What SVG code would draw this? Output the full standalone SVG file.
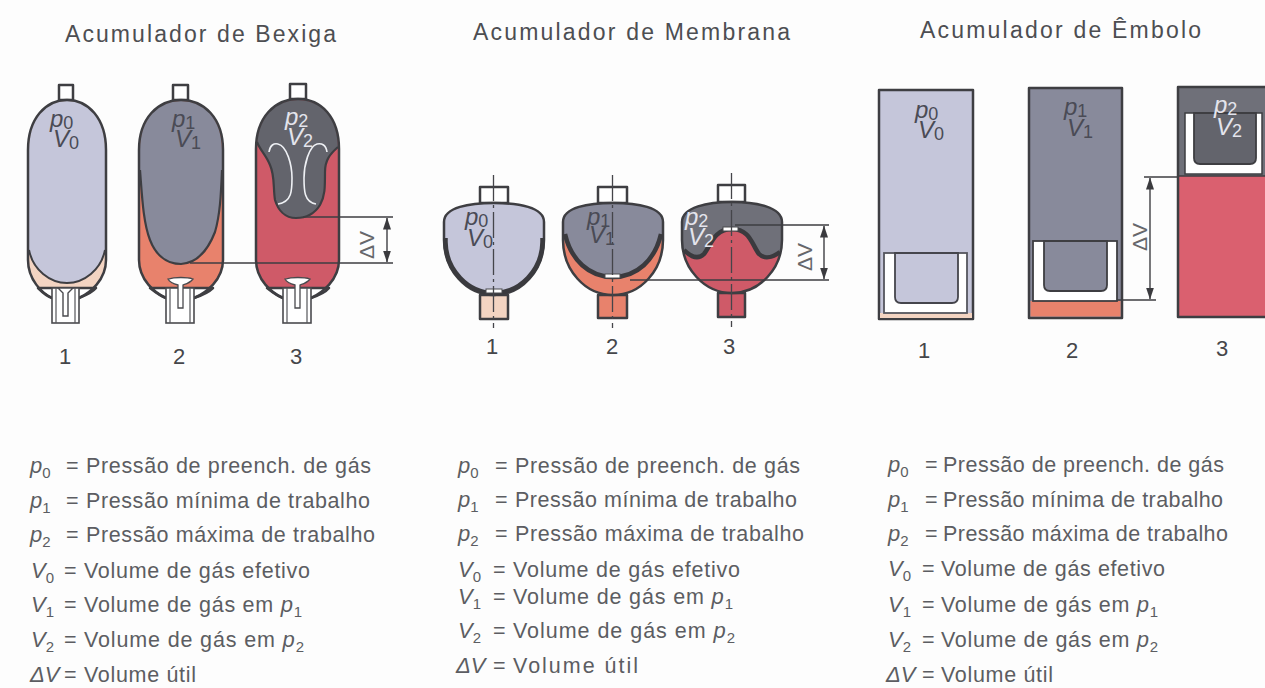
<svg xmlns="http://www.w3.org/2000/svg" width="1265" height="688" viewBox="0 0 1265 688">
<style>
text{font-family:"Liberation Sans",Arial,sans-serif;fill:#4d4e52}
.t{font-size:23px}
.n{font-size:22px;text-anchor:middle;fill:#45464a}
.v{font-size:24px;font-style:italic;fill:#4a4b55}
.w{fill:#e4e4ec}
.sub{font-size:18px;font-style:normal}
.s{font-size:22px;font-style:italic;fill:#5c5d62}
.l{font-size:21.500px;fill:#5c5d62}
.ls{font-size:15px;font-style:normal}
.d{font-size:21px;text-anchor:middle;fill:#66676b}
.o{stroke:#3e3e42;stroke-width:2.500;stroke-linejoin:round}
.g0{fill:#c5c6da}.g1{fill:#888a9b}.g2{fill:#63646c}.g3{fill:#6f7079}
.f0{fill:#f3d4c2}.f1{fill:#e8826c}.f2{fill:#cf5a68}.f3{fill:#da606f}
.wh{fill:#fff}
.nf{fill:none}
.thick{fill:none;stroke:#3a3a3e;stroke-width:4.500}
.ax{stroke:#45454a;stroke-width:1.300;stroke-dasharray:26 4 3 4;fill:none}
.t1{fill:none;stroke:#55565a;stroke-width:1.200}
.dim{stroke:#3e3e42;stroke-width:1.400;fill:none}
.dimA{stroke:#3e3e42;stroke-width:1.400;fill:none;marker-start:url(#ah);marker-end:url(#ah)}
.cur{fill:none;stroke:#eef0f4;stroke-width:1.600}
</style>
<defs>
<marker id="ah" viewBox="0 0 12 8" refX="11.500" refY="4" markerWidth="12" markerHeight="8" markerUnits="userSpaceOnUse" orient="auto-start-reverse"><path d="M0 0L12 4L0 8Z" fill="#3a3a3e"/></marker>
</defs>
<rect width="1265" height="688" fill="#fdfdfd"/>

<g id="titulos">
<text class="t" x="65" y="42" textLength="271" lengthAdjust="spacing">Acumulador de Bexiga</text>
<text class="t" x="473" y="40" textLength="317" lengthAdjust="spacing">Acumulador de Membrana</text>
<text class="t" x="920" y="38" textLength="281" lengthAdjust="spacing">Acumulador de Êmbolo</text>
</g>

<g id="bexiga-1">
<rect class="o wh" x="59" y="85" width="14" height="15"/>
<path class="f0" d="M28 150C28 118 46 100 67 100C88 100 106 118 106 150V260C106 280 90 293 79 298H52C42 293 28 280 28 260Z"/>
<path class="g0" d="M29 150C29 118 46 101 67 101C88 101 105 118 105 150V250C101 270 84 283 67 283C50 283 33 270 29 250Z"/>
<path class="nf" stroke="#3e3e42" stroke-width="2" d="M29 250C33 270 50 283 67 283C84 283 101 270 105 250"/>
<path class="wh o" stroke-width="1.500" d="M38 288H96C92 293 84 296 79 298H52C46 296 42 292 38 288Z"/>
<path class="o nf" d="M28 150C28 118 46 100 67 100C88 100 106 118 106 150V260C106 280 90 293 79 298H52C42 293 28 280 28 260Z"/>
<rect class="wh" x="52" y="288" width="27" height="35" stroke="#4a4a4e" stroke-width="1.600"/>
<path class="t1" d="M56 288V323M75 288V323"/>
<path class="wh" stroke="#4a4a4e" stroke-width="1.400" d="M58 288H73L68 293V316H63V293Z"/>
<text class="v" x="50" y="127">p<tspan class="sub" dy="2">0</tspan></text>
<text class="v" x="53" y="147">V<tspan class="sub" dy="2">0</tspan></text>
<text class="n" x="65" y="364">1</text>
</g>

<g id="bexiga-2">
<rect class="o wh" x="173" y="85" width="15" height="15"/>
<path class="f1" d="M139 150C139 118 158 100 181 100C204 100 223 118 223 150V260C223 280 206 293 194 298H166C155 293 139 280 139 260Z"/>
<path class="g1" d="M140 150C140 118 158 101 181 101C204 101 222 118 222 150V170C221 195 220 215 215 232C208 250 198 263 181 264C165 264 155 253 150 240C143 222 142 195 140 170Z"/>
<path class="nf" stroke="#3e3e42" stroke-width="2.200" d="M140 170C142 195 143 222 150 240C155 253 165 264 181 264C198 263 208 250 215 232C220 215 221 195 222 170"/>
<path class="wh o" stroke-width="1.500" d="M150 288H213C208 293 200 296 194 298H166C160 296 155 292 150 288Z"/>
<path class="o nf" d="M139 150C139 118 158 100 181 100C204 100 223 118 223 150V260C223 280 206 293 194 298H166C155 293 139 280 139 260Z"/>
<rect class="wh" x="166" y="288" width="28" height="35" stroke="#4a4a4e" stroke-width="1.600"/>
<path class="t1" d="M170 288V323M190 288V323"/>
<path class="wh" stroke="#4a4a4e" stroke-width="1.300" d="M168 279C175 277 187 277 193 279C190 283 186 284 183 285V308H178V285C174 284 170 283 168 279Z"/>
<text class="v" x="172" y="127">p<tspan class="sub" dy="2">1</tspan></text>
<text class="v" x="175" y="147">V<tspan class="sub" dy="2">1</tspan></text>
<text class="n" x="179" y="364">2</text>
</g>

<g id="bexiga-3">
<rect class="o wh" x="290" y="84" width="16" height="15"/>
<path class="f2" d="M256 149C256 117 275 99 298 99C321 99 339 117 339 149V260C339 280 322 293 311 298H283C272 293 256 280 256 260Z"/>
<path class="g2" d="M257 149C257 117 275 100 298 100C321 100 338 117 338 147C330 154 325 160 325 172C325 188 325 196 320 205C315 213 307 218 296 218C285 218 278 210 275 200C273 188 275 176 270 165C266 155 260 150 257 142Z"/>
<path class="nf" stroke="#3e3e42" stroke-width="2.200" d="M338 147C330 154 325 160 325 172C325 188 325 196 320 205C315 213 307 218 296 218C285 218 278 210 275 200C273 188 275 176 270 165C266 155 260 150 257 142"/>
<path class="cur" d="M269 152C270 145 274 143 278 144C287 146 292 165 292 178C292 190 292 202 278 204"/>
<path class="cur" d="M327 152C326 145 322 143 317 144C309 146 304 165 304 178C304 190 304 202 316 204"/>
<path class="wh o" stroke-width="1.500" d="M267 288H329C325 293 317 296 311 298H283C277 296 272 292 267 288Z"/>
<path class="o nf" d="M256 149C256 117 275 99 298 99C321 99 339 117 339 149V260C339 280 322 293 311 298H283C272 293 256 280 256 260Z"/>
<rect class="wh" x="283" y="288" width="28" height="35" stroke="#4a4a4e" stroke-width="1.600"/>
<path class="t1" d="M287 288V323M307 288V323"/>
<path class="wh" stroke="#4a4a4e" stroke-width="1.300" d="M285 279C292 277 304 277 310 279C307 283 303 284 300 285V308H295V285C291 284 287 283 285 279Z"/>
<text class="v w" x="285" y="125">p<tspan class="sub" dy="2">2</tspan></text>
<text class="v w" x="287" y="145">V<tspan class="sub" dy="2">2</tspan></text>
<text class="n" x="296" y="364">3</text>
</g>

<g id="membrana-1">
<rect class="o wh" x="480" y="187" width="28" height="16"/>
<rect class="f0 o" x="480" y="295" width="28" height="24"/>
<path class="g0" d="M444 222C444 207 470 203 494 203C518 203 544 207 544 222V240C544 270 522 295 494 295C466 295 444 270 444 240Z"/>
<path class="o nf" d="M444 222C444 207 470 203 494 203C518 203 544 207 544 222V240C544 270 522 295 494 295C466 295 444 270 444 240Z"/>
<path class="thick" d="M445.500 238V242C446 270 468 293 494 293C520 293 542 270 542.500 242V238"/>
<rect class="wh" x="486" y="289" width="16" height="4" stroke="#4a4a4e" stroke-width="1"/>
<path class="ax" d="M493.500 175V328"/>
<text class="v" x="465" y="225">p<tspan class="sub" dy="2">0</tspan></text>
<text class="v" x="467" y="246">V<tspan class="sub" dy="2">0</tspan></text>
<text class="n" x="492" y="354">1</text>
</g>

<g id="membrana-2">
<rect class="o wh" x="598" y="187" width="29" height="16"/>
<rect class="f1 o" x="598" y="295" width="29" height="23"/>
<path class="f1" d="M563 222C563 207 589 203 613 203C637 203 663 207 663 222V240C663 270 641 295 613 295C585 295 563 270 563 240Z"/>
<path class="g1" d="M563 222C563 207 589 203 613 203C637 203 663 207 663 222V236C656 260 637 277 613 277C589 277 570 260 563 236Z"/>
<path class="o nf" d="M563 222C563 207 589 203 613 203C637 203 663 207 663 222V240C663 270 641 295 613 295C585 295 563 270 563 240Z"/>
<path class="thick" d="M565 234C571 260 589 277 613 277C637 277 655 260 661 234"/>
<rect class="wh" x="605" y="274" width="15" height="4" stroke="#4a4a4e" stroke-width="1"/>
<path class="ax" d="M612.500 175V328"/>
<text class="v" x="587" y="225">p<tspan class="sub" dy="2">1</tspan></text>
<text class="v" x="589" y="243">V<tspan class="sub" dy="2">1</tspan></text>
<text class="n" x="612" y="354">2</text>
</g>

<g id="membrana-3">
<rect class="o wh" x="718" y="185" width="27" height="17"/>
<rect class="f2 o" x="718" y="293" width="27" height="24"/>
<path class="f2" d="M682 222C682 207 708 202 732 202C756 202 782 207 782 222V240C782 268 760 293 732 293C704 293 682 268 682 240Z"/>
<path class="g3" d="M682 222C682 207 708 202 732 202C756 202 782 207 782 222V252C772 258 764 259 759 254C752 245 750 229 732 229C714 229 711 245 704 254C699 259 692 258 682 250Z"/>
<path class="o nf" d="M682 222C682 207 708 202 732 202C756 202 782 207 782 222V240C782 268 760 293 732 293C704 293 682 268 682 240Z"/>
<path class="thick" d="M684 250C692 258 699 259 704 254C711 245 714 229 732 229C750 229 752 245 759 254C764 259 772 258 780 252"/>
<rect class="wh" x="723" y="227" width="15" height="4" stroke="#4a4a4e" stroke-width="1"/>
<path class="ax" d="M731.500 173V327"/>
<text class="v w" x="685" y="225">p<tspan class="sub" dy="2">2</tspan></text>
<text class="v w" x="688" y="245">V<tspan class="sub" dy="2">2</tspan></text>
<text class="n" x="729" y="354">3</text>
</g>

<g id="embolo-1">
<rect class="g0 o" x="879" y="90" width="94" height="229"/>
<rect x="880" y="313" width="92" height="5" class="f0"/>
<rect class="wh" x="884" y="253" width="83" height="60" stroke="#55565e" stroke-width="1.800"/>
<path class="g0" stroke="#45454c" stroke-width="1.800" d="M895 253V297Q895 303 901 303H952Q958 303 958 297V253Z"/>
<text class="v" x="915" y="118">p<tspan class="sub" dy="2">0</tspan></text>
<text class="v" x="918" y="138">V<tspan class="sub" dy="2">0</tspan></text>
<text class="n" x="924" y="358">1</text>
</g>

<g id="embolo-2">
<rect class="g1 o" x="1029" y="88" width="93" height="230"/>
<rect class="f1" x="1030.500" y="301" width="90" height="15.500"/>
<rect class="wh" x="1033" y="241" width="84" height="60" stroke="#3e3e42" stroke-width="1.800"/>
<path class="g1" stroke="#3e3e42" stroke-width="1.800" d="M1044 241V285Q1044 291 1050 291H1101Q1107 291 1107 285V241Z"/>
<text class="v" x="1064" y="115">p<tspan class="sub" dy="2">1</tspan></text>
<text class="v" x="1067" y="136">V<tspan class="sub" dy="2">1</tspan></text>
<text class="n" x="1072" y="358">2</text>
</g>

<g id="embolo-3">
<rect class="g3" x="1178" y="87" width="90" height="89"/>
<rect class="f3" x="1178" y="176" width="90" height="141"/>
<path class="o nf" d="M1268 87H1178V317H1268"/>
<rect class="wh" x="1185" y="113" width="77" height="61" stroke="#3e3e42" stroke-width="1.500"/>
<path class="g2" stroke="#3e3e42" stroke-width="1.800" d="M1194 113V158Q1194 164 1200 164H1250Q1256 164 1256 158V113Z"/>
<path class="dim" d="M1178 176H1268"/>
<text class="v w" x="1214" y="113">p<tspan class="sub" dy="2">2</tspan></text>
<text class="v w" x="1216" y="135">V<tspan class="sub" dy="2">2</tspan></text>
<text class="n" x="1222" y="356">3</text>
</g>

<g id="conectores">
<path class="dim" d="M190 263H393M303 217H393"/>
<path class="dimA" d="M387 218V262"/>
<path class="dim" d="M735 225H829M630 280H829"/>
<path class="dimA" d="M824 226V279"/>
<path class="dim" d="M1144 177H1178M1117 300H1156"/>
<path class="dimA" d="M1150 178V299"/>
</g>

<g id="cotas">
<text class="d" transform="translate(374 245) rotate(-90)">ΔV</text>
<text class="d" transform="translate(812 257) rotate(-90)">ΔV</text>
<text class="d" transform="translate(1147 237) rotate(-90)">ΔV</text>
</g>

<g id="legenda-bexiga">
<text class="s" x="30" y="473">p<tspan class="ls" dy="5">0</tspan></text><text class="l" x="66" y="473">=</text><text class="l" x="86" y="473" textLength="285" lengthAdjust="spacing">Pressão de preench. de gás</text>
<text class="s" x="30" y="508">p<tspan class="ls" dy="5">1</tspan></text><text class="l" x="66" y="508">=</text><text class="l" x="86" y="508" textLength="284" lengthAdjust="spacing">Pressão mínima de trabalho</text>
<text class="s" x="30" y="542">p<tspan class="ls" dy="5">2</tspan></text><text class="l" x="66" y="542">=</text><text class="l" x="86" y="542" textLength="289" lengthAdjust="spacing">Pressão máxima de trabalho</text>
<text class="s" x="31" y="578">V<tspan class="ls" dy="5">0</tspan></text><text class="l" x="64" y="578">=</text><text class="l" x="84" y="578" textLength="226" lengthAdjust="spacing">Volume de gás efetivo</text>
<text class="s" x="31" y="612">V<tspan class="ls" dy="5">1</tspan></text><text class="l" x="64" y="612">=</text><text class="l" x="84" y="612" textLength="218" lengthAdjust="spacing">Volume de gás em <tspan class="s">p</tspan><tspan class="ls" dy="5">1</tspan></text>
<text class="s" x="31" y="647">V<tspan class="ls" dy="5">2</tspan></text><text class="l" x="64" y="647">=</text><text class="l" x="84" y="647" textLength="220" lengthAdjust="spacing">Volume de gás em <tspan class="s">p</tspan><tspan class="ls" dy="5">2</tspan></text>
<text class="s" x="30" y="682">ΔV</text><text class="l" x="64" y="682">=</text><text class="l" x="84" y="682" textLength="112" lengthAdjust="spacing">Volume útil</text>
</g>

<g id="legenda-membrana">
<text class="s" x="458" y="473">p<tspan class="ls" dy="5">0</tspan></text><text class="l" x="495" y="473">=</text><text class="l" x="515" y="473" textLength="285" lengthAdjust="spacing">Pressão de preench. de gás</text>
<text class="s" x="458" y="507">p<tspan class="ls" dy="5">1</tspan></text><text class="l" x="495" y="507">=</text><text class="l" x="515" y="507" textLength="282" lengthAdjust="spacing">Pressão mínima de trabalho</text>
<text class="s" x="458" y="541">p<tspan class="ls" dy="5">2</tspan></text><text class="l" x="495" y="541">=</text><text class="l" x="515" y="541" textLength="289" lengthAdjust="spacing">Pressão máxima de trabalho</text>
<text class="s" x="458" y="577">V<tspan class="ls" dy="5">0</tspan></text><text class="l" x="493" y="577">=</text><text class="l" x="513" y="577" textLength="227" lengthAdjust="spacing">Volume de gás efetivo</text>
<text class="s" x="458" y="604">V<tspan class="ls" dy="5">1</tspan></text><text class="l" x="493" y="604">=</text><text class="l" x="513" y="604" textLength="220" lengthAdjust="spacing">Volume de gás em <tspan class="s">p</tspan><tspan class="ls" dy="5">1</tspan></text>
<text class="s" x="458" y="638">V<tspan class="ls" dy="5">2</tspan></text><text class="l" x="493" y="638">=</text><text class="l" x="513" y="638" textLength="222" lengthAdjust="spacing">Volume de gás em <tspan class="s">p</tspan><tspan class="ls" dy="5">2</tspan></text>
<text class="s" x="456" y="673">ΔV</text><text class="l" x="493" y="673">=</text><text class="l" x="513" y="673" textLength="125" lengthAdjust="spacing">Volume útil</text>
</g>

<g id="legenda-embolo">
<text class="s" x="888" y="472">p<tspan class="ls" dy="5">0</tspan></text><text class="l" x="925" y="472">=</text><text class="l" x="943" y="472" textLength="281" lengthAdjust="spacing">Pressão de preench. de gás</text>
<text class="s" x="888" y="507">p<tspan class="ls" dy="5">1</tspan></text><text class="l" x="925" y="507">=</text><text class="l" x="943" y="507" textLength="280" lengthAdjust="spacing">Pressão mínima de trabalho</text>
<text class="s" x="888" y="541">p<tspan class="ls" dy="5">2</tspan></text><text class="l" x="925" y="541">=</text><text class="l" x="943" y="541" textLength="285" lengthAdjust="spacing">Pressão máxima de trabalho</text>
<text class="s" x="888" y="576">V<tspan class="ls" dy="5">0</tspan></text><text class="l" x="922" y="576">=</text><text class="l" x="941" y="576" textLength="224" lengthAdjust="spacing">Volume de gás efetivo</text>
<text class="s" x="888" y="612">V<tspan class="ls" dy="5">1</tspan></text><text class="l" x="922" y="612">=</text><text class="l" x="941" y="612" textLength="217" lengthAdjust="spacing">Volume de gás em <tspan class="s">p</tspan><tspan class="ls" dy="5">1</tspan></text>
<text class="s" x="888" y="647">V<tspan class="ls" dy="5">2</tspan></text><text class="l" x="922" y="647">=</text><text class="l" x="941" y="647" textLength="217" lengthAdjust="spacing">Volume de gás em <tspan class="s">p</tspan><tspan class="ls" dy="5">2</tspan></text>
<text class="s" x="886" y="682">ΔV</text><text class="l" x="922" y="682">=</text><text class="l" x="941" y="682" textLength="112" lengthAdjust="spacing">Volume útil</text>
</g>
</svg>
